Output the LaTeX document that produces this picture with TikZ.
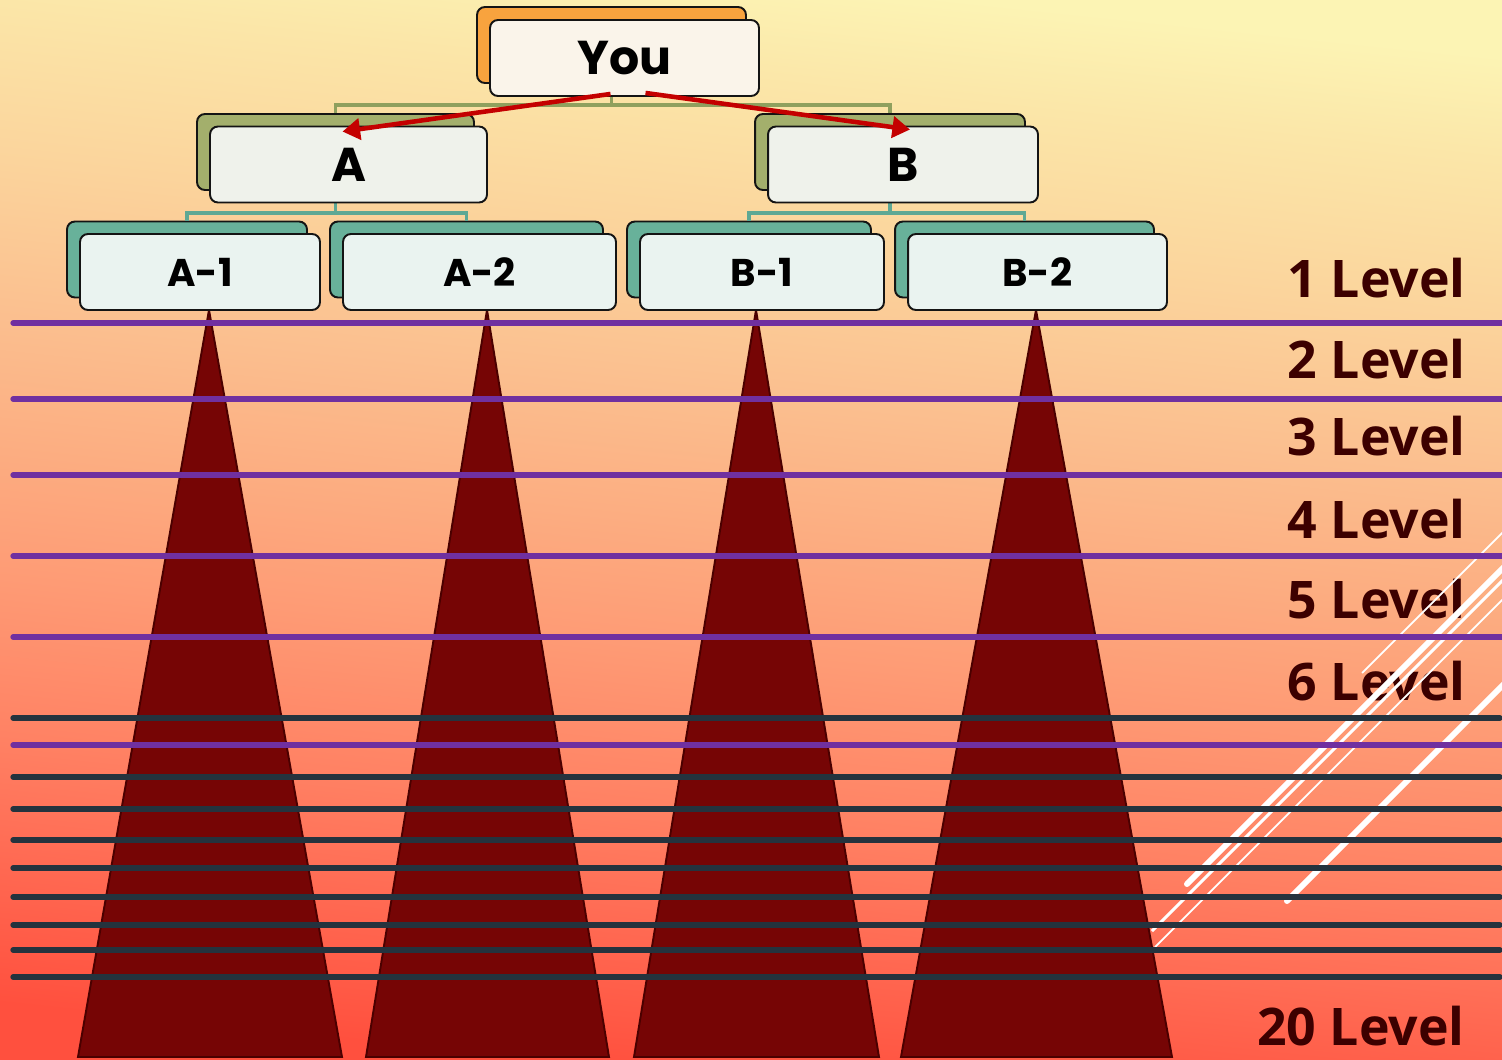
\documentclass[tikz,border=0pt]{standalone}
\usepackage{fontspec}
\setmainfont{Open Sans}
\newfontfamily\boxfont{Poppins}
\usetikzlibrary{arrows.meta,positioning,calc}

\definecolor{bgtop}{RGB}{252,244,180}
\definecolor{bgya}{RGB}{251,230,168}
\definecolor{bgyb}{RGB}{251,212,156}
\definecolor{bgyc}{RGB}{251,191,143}
\definecolor{bgyd}{RGB}{252,173,129}
\definecolor{bgye}{RGB}{254,155,117}
\definecolor{bgyf}{RGB}{255,130,100}
\definecolor{bgyg}{RGB}{255,110,86}
\definecolor{bgbot}{RGB}{255,80,62}
\definecolor{boxline}{RGB}{20,20,20}
\definecolor{youback}{RGB}{248,163,62}
\definecolor{midback}{RGB}{163,175,108}
\definecolor{leafback}{RGB}{104,177,154}
\definecolor{youfront}{RGB}{250,244,234}
\definecolor{midfront}{RGB}{239,242,235}
\definecolor{leaffront}{RGB}{234,243,240}
\definecolor{oliveline}{RGB}{143,160,94}
\definecolor{tealline}{RGB}{94,168,148}
\definecolor{arrowred}{RGB}{196,0,0}
\definecolor{trifill}{RGB}{118,5,5}
\definecolor{triedge}{RGB}{74,0,0}
\definecolor{levelpurple}{RGB}{112,48,160}
\definecolor{leveldark}{RGB}{36,51,62}
\definecolor{leveltext}{RGB}{60,0,0}

\pgfdeclareverticalshading{bgshade}{100bp}{color(0bp)=(bgbot); color(25bp)=(bgbot);
  color(32.5bp)=(bgyg); color(37.2bp)=(bgyf); color(44.3bp)=(bgye); color(50bp)=(bgyd);
  color(56.1bp)=(bgyc); color(63.2bp)=(bgyb); color(70.3bp)=(bgya); color(75bp)=(bgtop);
  color(100bp)=(bgtop)}

\begin{document}
\begin{tikzpicture}[x=0.02cm,y=-0.02cm,
  backbox/.style={draw=boxline,line width=1.1pt,rounded corners=4.5pt,
                  minimum height=1.52cm,inner sep=0pt},
  frontbox/.style={draw=boxline,line width=1.1pt,rounded corners=4.5pt,
                   minimum height=1.52cm,inner sep=0pt,text=black},
  topfont/.style={font=\boxfont\bfseries\fontsize{27}{27}\selectfont},
  leaffont/.style={font=\boxfont\bfseries\fontsize{22}{22}\selectfont},
  levellabel/.style={font=\bfseries\fontsize{29.5}{30}\selectfont,text=leveltext,
                     anchor=base east,inner sep=0pt},
  purpleline/.style={levelpurple,line width=3pt,line cap=round},
  darkline/.style={leveldark,line width=3pt,line cap=round},
  tri/.style={fill=trifill,draw=triedge,line width=1.1pt},
  redarrow/.style={arrowred,line width=2.6pt,-{Triangle[length=10pt,width=12pt]}},
  connector/.style={line width=2pt}]
  \useasboundingbox (0,0) rectangle (1502,1059);

  %% background
  \shade[shading=bgshade,shading angle=-6] (0,0) rectangle (1502,1059);

  %% level labels on the right
  \foreach \n/\yy in {1/297,2/378,3/455,4/538,5/618,6/700}
    \node[levellabel] (lvl\n) at (1466,\yy) {\n\ Level};
  \node[levellabel] (lvl20) at (1465,1045) {20 Level};

  %% white streaks
  \draw[white,line width=3.4pt,line cap=round] (1187,884) -- (1540,531);
  \draw[white,line width=1.7pt] (1152,931) -- (1540,543);
  \draw[white,line width=1pt] (1155,947) -- (1540,562);
  \draw[white,line width=3.4pt,line cap=round] (1287,901) -- (1540,648);
  \draw[white,line width=1pt] (1362,673) -- (1540,495);

  %% downline triangles
  \filldraw[tri] (209,310) -- (342,1057) -- (78,1057) -- cycle;
  \filldraw[tri] (487,310) -- (609,1057) -- (366,1057) -- cycle;
  \filldraw[tri] (756,310) -- (879,1057) -- (634,1057) -- cycle;
  \filldraw[tri] (1036,310) -- (1172,1057) -- (901,1057) -- cycle;

  %% level lines
  \foreach \yy in {718,777,809,840,868,897,925,950,977}
    \draw[darkline] (13,\yy) -- (1500,\yy);
  \foreach \yy in {323,399,475,556,637,745}
    \draw[purpleline] (13,\yy) -- (1510,\yy);

  %% back boxes
  \node[backbox,fill=youback,minimum width=5.38cm] (you-back) at (611.5,45) {};
  \node[backbox,fill=midback,minimum width=5.54cm] (a-back) at (335.5,152) {};
  \node[backbox,fill=midback,minimum width=5.4cm] (b-back) at (890,152) {};
  \node[backbox,fill=leafback,minimum width=4.8cm] (a1-back) at (187,259.5) {};
  \node[backbox,fill=leafback,minimum width=5.46cm] (a2-back) at (466.5,259.5) {};
  \node[backbox,fill=leafback,minimum width=4.88cm] (b1-back) at (749,259.5) {};
  \node[backbox,fill=leafback,minimum width=5.18cm] (b2-back) at (1024.5,259.5) {};

  %% tree connectors
  \draw[connector,oliveline] (you-back.south) -- ++(0,21) -| (a-back.north);
  \draw[connector,oliveline] (you-back.south) -- ++(0,21) -| (b-back.north);
  \draw[connector,tealline] (a-back.south) -- ++(0,22) -| (a1-back.north);
  \draw[connector,tealline] (a-back.south) -- ++(0,22) -| (a2-back.north);
  \draw[connector,tealline] (b-back.south) -- ++(0,22) -| (b1-back.north);
  \draw[connector,tealline] (b-back.south) -- ++(0,22) -| (b2-back.north);

  %% front boxes
  \node[frontbox,fill=youfront,minimum width=5.38cm,topfont] (you) at (624.5,58) {You};
  \node[frontbox,fill=midfront,minimum width=5.54cm,topfont] (a) at (348.5,164.5) {A};
  \node[frontbox,fill=midfront,minimum width=5.4cm,topfont] (b) at (903,164.5) {B};
  \node[frontbox,fill=leaffront,minimum width=4.8cm,leaffont] (a1) at (200,272) {A-1};
  \node[frontbox,fill=leaffront,minimum width=5.46cm,leaffont] (a2) at (479.5,272) {A-2};
  \node[frontbox,fill=leaffront,minimum width=4.88cm,leaffont] (b1) at (762,272) {B-1};
  \node[frontbox,fill=leaffront,minimum width=5.18cm,leaffont] (b2) at (1037.5,272) {B-2};

  %% red arrows
  \draw[redarrow] ([shift={(-14,-3)}]you.south) -- ([shift={(-6,6)}]a.north);
  \draw[redarrow] ([shift={(21,-4)}]you.south) -- ([shift={(7,4)}]b.north);
\end{tikzpicture}
\end{document}
